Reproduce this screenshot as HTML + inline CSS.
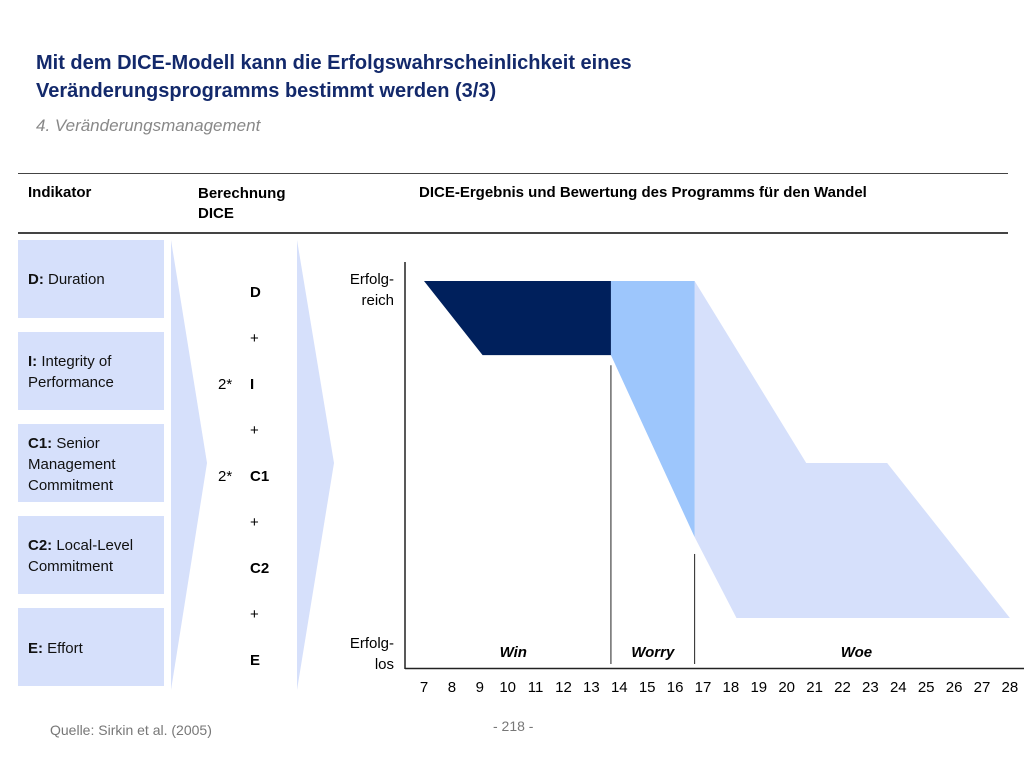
<!DOCTYPE html>
<html><head><meta charset="utf-8"><style>
body{margin:0;width:1024px;height:768px;background:#fff;font-family:"Liberation Sans",sans-serif;position:relative;overflow:hidden}
.a{position:absolute;white-space:nowrap}
.box{position:absolute;left:18px;width:146px;height:78px;background:#d6e0fb}
.box span{position:absolute;left:10px;font-size:15px;color:#111;line-height:21px}
</style></head><body>
<div class="a" style="left:36px;top:49px;font-size:20px;font-weight:bold;color:#13296b;line-height:28px">Mit dem DICE-Modell kann die Erfolgswahrscheinlichkeit eines<br>Veränderungsprogramms bestimmt werden (3/3)</div>
<div class="a" style="left:36px;top:116px;font-size:17px;font-style:italic;color:#888">4. Veränderungsmanagement</div>
<div class="a" style="left:18px;top:173px;width:990px;height:1px;background:#444"></div>
<div class="a" style="left:18px;top:232px;width:990px;height:2px;background:#444"></div>
<div class="a" style="left:28px;top:184px;font-size:15px;font-weight:bold">Indikator</div>
<div class="a" style="left:198px;top:184px;font-size:15px;font-weight:bold;line-height:20px">Berechnung<br>DICE</div>
<div class="a" style="left:419px;top:184px;font-size:15px;font-weight:bold">DICE-Ergebnis und Bewertung des Programms für den Wandel</div>
<div class="box" style="top:240px"><span style="top:29px"><b>D:</b> Duration</span></div>
<div class="box" style="top:332px"><span style="top:19px"><b>I:</b> Integrity of<br>Performance</span></div>
<div class="box" style="top:424px"><span style="top:9px"><b>C1:</b> Senior<br>Management<br>Commitment</span></div>
<div class="box" style="top:516px"><span style="top:19px"><b>C2:</b> Local-Level<br>Commitment</span></div>
<div class="box" style="top:608px"><span style="top:30px"><b>E:</b> Effort</span></div>
<svg class="a" style="left:0;top:0" width="1024" height="768">
<polygon points="171,240 207,463 171,690" fill="#d6e0fb"/>
<polygon points="297,240 334,463 297,690" fill="#d6e0fb"/>
</svg>
<div class="a" style="left:218px;top:270px;font-size:15px;line-height:46px">
<div style="position:absolute;left:32px;top:0;font-weight:bold">D</div>
<div style="position:absolute;left:32px;top:46px">+</div>
<div style="position:absolute;left:0;top:92px">2*</div><div style="position:absolute;left:32px;top:92px;font-weight:bold">I</div>
<div style="position:absolute;left:32px;top:138px">+</div>
<div style="position:absolute;left:0;top:184px">2*</div><div style="position:absolute;left:32px;top:184px;font-weight:bold">C1</div>
<div style="position:absolute;left:32px;top:230px">+</div>
<div style="position:absolute;left:32px;top:276px;font-weight:bold">C2</div>
<div style="position:absolute;left:32px;top:322px">+</div>
<div style="position:absolute;left:32px;top:368px;font-weight:bold">E</div>
</div>
<div class="a" style="left:330px;top:269px;width:64px;text-align:right;font-size:15px;line-height:21px">Erfolg-<br>reich</div>
<div class="a" style="left:330px;top:633px;width:64px;text-align:right;font-size:15px;line-height:21px">Erfolg-<br>los</div>
<svg id="chart" class="a" style="left:0;top:0" width="1024" height="768"></svg>
<div class="a" style="left:50px;top:722px;font-size:14px;color:#777">Quelle: Sirkin et al. (2005)</div>
<div class="a" style="left:493px;top:718px;font-size:14px;color:#777">- 218 -</div>
<script>
const ticks=[7,8,9,10,11,12,13,14,15,16,17,18,19,20,21,22,23,24,25,26,27,28];
const winShape=[[7,100],[13.7,100],[13.7,78],[9.1,78]];
const worryShape=[[13.7,100],[16.7,100],[16.7,24],[13.7,78]];
const woeShape=[[16.7,100],[20.7,46],[23.6,46],[28,0],[18.2,0],[16.7,24]];
const zoneLabels=["Win","Worry","Woe"];
const zoneLabelX=[10.2,15.2,22.5];
const dividers=[[13.7,75],[16.7,19]];
const X=v=>424+(v-7)*27.9, Y=v=>618-v*3.37;
const svg=document.getElementById('chart'),NS='http://www.w3.org/2000/svg';
function poly(pts,fill,name){const p=document.createElementNS(NS,'polygon');
p.setAttribute('points',pts.map(q=>X(q[0])+','+Y(q[1])).join(' '));p.setAttribute('fill',fill);


svg.appendChild(p);}
poly(woeShape,'#d6e0fb','woe-area');
poly(worryShape,'#9dc6fc','worry-area');
poly(winShape,'#00205c','win-area');
function line(x1,y1,x2,y2,w,name){const l=document.createElementNS(NS,'line');
l.setAttribute('x1',x1);l.setAttribute('y1',y1);l.setAttribute('x2',x2);l.setAttribute('y2',y2);
l.setAttribute('stroke','#222');l.setAttribute('stroke-width',w);


svg.appendChild(l);}
line(405,262,405,669,1.5,'y-axis');
line(405,668.5,1024,668.5,1.5,'x-axis');
dividers.forEach(d=>line(X(d[0]),Y(d[1]),X(d[0]),664,1,'zone-divider'));
function txt(x,y,s,name,st){const t=document.createElementNS(NS,'text');
t.setAttribute('x',x);t.setAttribute('y',y);t.setAttribute('text-anchor','middle');
t.setAttribute('font-family','Liberation Sans, sans-serif');t.setAttribute('font-size','15');
if(st)t.setAttribute('style',st);t.textContent=s;


svg.appendChild(t);}
ticks.forEach(v=>txt(X(v),692,v,'x-tick-label'));
zoneLabels.forEach((s,i)=>txt(X(zoneLabelX[i]),657,s,'zone-label','font-weight:bold;font-style:italic'));
</script>
</body></html>
